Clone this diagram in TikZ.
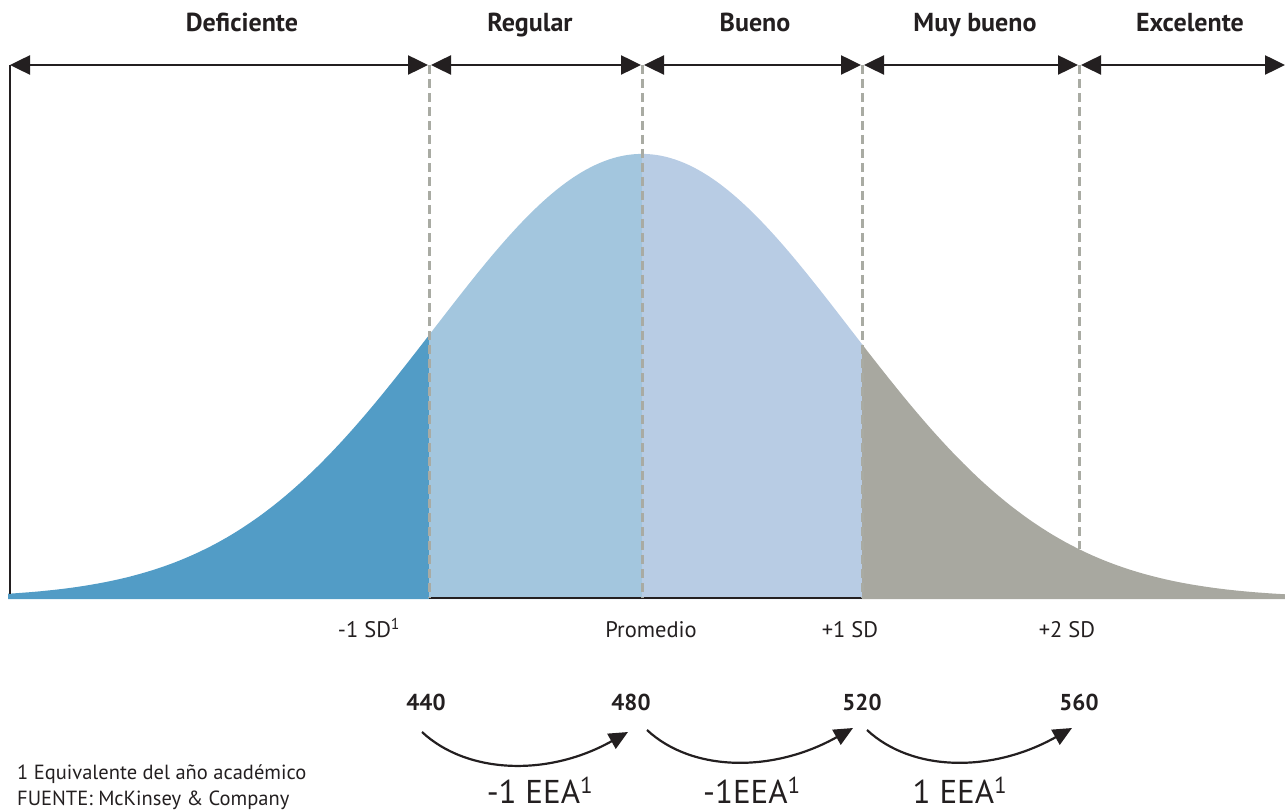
\documentclass[tikz,border=0pt]{standalone}
\usepackage{fontspec}
\setmainfont{PT Sans}
\usetikzlibrary{arrows.meta,calc}

\definecolor{ink}{HTML}{231F20}
\definecolor{tailblue}{HTML}{529CC6}
\definecolor{midblue}{HTML}{A3C6DE}
\definecolor{paleblue}{HTML}{B8CCE4}
\definecolor{tailgray}{HTML}{A8A8A0}
\definecolor{guidegray}{HTML}{A9ABA3}

\begin{document}
\begin{tikzpicture}[x=1pt,y=-1pt,
  declare function={g(\t)=598-444*exp(-0.5*((\t-642)/208)*((\t-642)/208));},
  band/.style={draw=ink, line width=2.5pt,
    {Triangle[length=20pt,width=19pt]}-{Triangle[length=20pt,width=19pt]}},
  guide/.style={draw=guidegray, line width=3pt, dash pattern=on 9pt off 5pt},
  jump/.style={draw=ink, line width=2.2pt, -{Triangle[length=19pt,width=17pt]}},
  title/.style={font=\bfseries\fontsize{26}{30}\selectfont, text=ink, anchor=base, inner sep=0pt},
  sdlabel/.style={font=\fontsize{22.5}{26}\selectfont, text=ink, anchor=base, inner sep=0pt},
  score/.style={font=\bfseries\fontsize{23}{27}\selectfont, text=ink, anchor=base, inner sep=0pt},
  step label/.style={font=\fontsize{33}{37}\selectfont, text=ink, anchor=base, inner sep=0pt},
  note/.style={font=\fontsize{20.5}{24}\selectfont, text=ink, anchor=base west, inner sep=0pt}]

\useasboundingbox (0,0) rectangle (1285,810);

% band boundaries on the top scale
\coordinate (L)  at (10,65);
\coordinate (d1) at (429,65);
\coordinate (d2) at (642,65);
\coordinate (d3) at (862,65);
\coordinate (d4) at (1079,65);
\coordinate (R)  at (1285,65);

% filled normal curve, one colour per band
\fill[tailblue] (8,599) -- plot[domain=8:429,samples=80] (\x,{g(\x)}) -- (429,599) -- cycle;
\fill[midblue] (429,599) -- plot[domain=429:642,samples=60] (\x,{g(\x)}) -- (642,599) -- cycle;
\fill[paleblue] (642,599) -- plot[domain=642:862,samples=60] (\x,{g(\x)}) -- (862,599) -- cycle;
\fill[tailgray] (862,599) -- plot[domain=862:1285,samples=80] (\x,{g(\x)}) -- (1285,599) -- cycle;

% axis pieces
\coordinate (base1) at (429,598);
\coordinate (base3) at (862,598);
\draw[ink, line width=1.5pt] (base1) -- (base3);
\coordinate (Lfoot) at (10,{g(10)});
\draw[ink, line width=2.5pt] (L) -- (Lfoot);

% dashed guides
\coordinate (b1) at (429,598);
\coordinate (b2) at (642,598);
\coordinate (b3) at (862,598);
\coordinate (b4) at (1079,{g(1079)});
\draw[guide] (d1) -- (b1);
\draw[guide] (d2) -- (b2);
\draw[guide] (d3) -- (b3);
\draw[guide] (d4) -- (b4);

% top scale with arrows
\draw[band] (L) -- ([xshift=-1pt]d1);
\draw[band] ([xshift=2pt]d1) -- ([xshift=-1pt]d2);
\draw[band] ([xshift=2pt]d2) -- ([xshift=-1pt]d3);
\draw[band] ([xshift=2pt]d3) -- ([xshift=-1pt]d4);
\draw[band] ([xshift=2pt]d4) -- (R);

% band titles
\node[title] (t1) at (242,32) {Deficiente};
\node[title] (t2) at (530,32) {Regular};
\node[title] (t3) at (755,32) {Bueno};
\node[title] (t4) at (975,32) {Muy bueno};
\node[title] (t5) at (1190,32) {Excelente};

% standard deviation labels
\node[sdlabel] (sd1) at (369,637) {-1 SD\textsuperscript{1}};
\node[sdlabel] (sd2) at (651,637) {Promedio};
\node[sdlabel] (sd3) at (850,637) {+1 SD};
\node[sdlabel] (sd4) at (1067,637) {+2 SD};

% scores
\node[score] (n440) at (426,710) {440};
\node[score] (n480) at (631,710) {480};
\node[score] (n520) at (862,710) {520};
\node[score] (n560) at (1079,710) {560};

% steps between scores
\coordinate (s1) at (422,732);
\coordinate (e1) at (628,732);
\coordinate (s2) at (647,730);
\coordinate (e2) at (853,728);
\coordinate (s3) at (867,730);
\coordinate (e3) at (1072,728);
\draw[jump] (s1) .. controls ($(s1)+(45,42)$) and ($(e1)+(-80,45)$) .. (e1);
\draw[jump] (s2) .. controls ($(s2)+(45,42)$) and ($(e2)+(-80,45)$) .. (e2);
\draw[jump] (s3) .. controls ($(s3)+(45,42)$) and ($(e3)+(-80,45)$) .. (e3);

\node[step label] (l1) at (540,803) {-1 EEA\textsuperscript{1}};
\node[step label] (l2) at (752,803) {-1EEA\textsuperscript{1}};
\node[step label] (l3) at (960,803) {1 EEA\textsuperscript{1}};

% footnotes
\node[note] (f1) at (17,779) {1 Equivalente del año académico};
\node[note] (f2) at (17,805) {FUENTE: McKinsey \& Company};

\end{tikzpicture}
\end{document}
